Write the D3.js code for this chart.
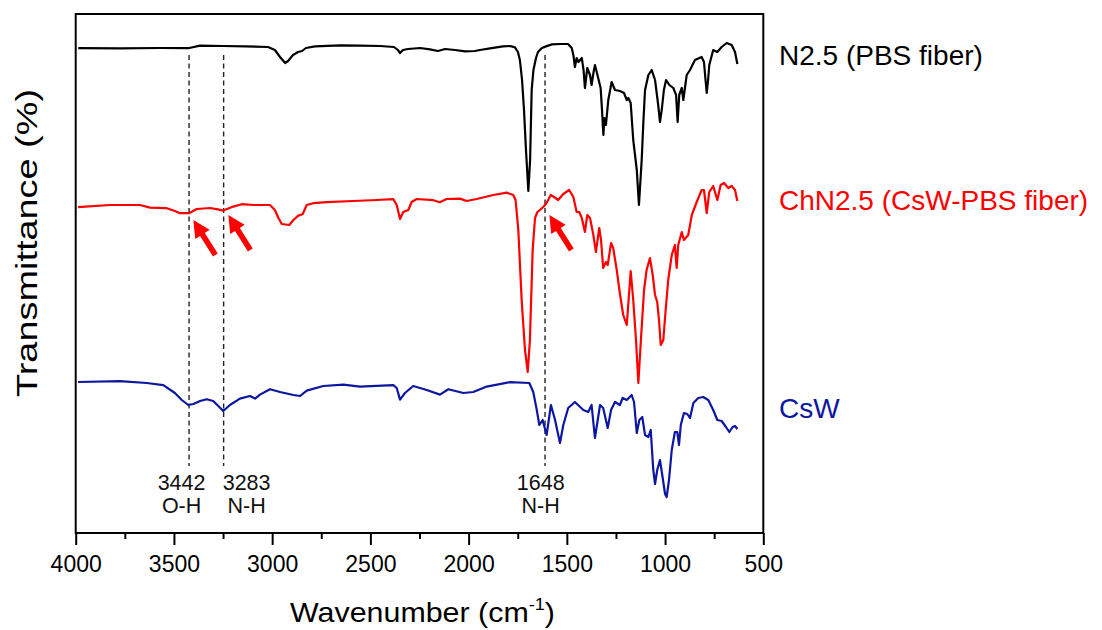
<!DOCTYPE html>
<html>
<head>
<meta charset="utf-8">
<script src="https://cdn.jsdelivr.net/npm/d3@7/dist/d3.min.js"></script>
<style>
  html, body { margin: 0; padding: 0; background: #fff; }
  svg { display: block; }
  text { font-family: "Liberation Sans", Arial, "DejaVu Sans", sans-serif; }
</style>
</head>
<body>
<svg id="chart" width="1102" height="630"></svg>
<script>
// ---------------- DATA ----------------
// x: wavenumber (cm-1); y: transmittance (a.u., spectra stacked with vertical offset)
const seriesNames = ["N2.5 (PBS fiber)", "ChN2.5 (CsW-PBS fiber)", "CsW"];
const seriesColors = ["#000000", "#ff0000", "#0c16a0"];

const n25Wn = [3987,3775,3571,3428,3367,3250,3138,3021,2986,2960,2934,2919,2894,2868,2848,2828,2782,2655,2553,2451,2380,2360,2349,2334,2309,2247,2197,2156,2120,2069,2018,1968,1942,1891,1825,1789,1764,1749,1739,1728,1718,1708,1696,1687,1679,1670,1657,1647,1627,1606,1576,1535,1494,1475,1466,1459,1450,1441,1433,1424,1415,1408,1396,1382,1374,1364,1357,1348,1328,1321,1314,1309,1301,1289,1272,1255,1230,1209,1195,1187,1175,1162,1144,1133,1119,1110,1102,1085,1068,1051,1035,1026,1017,1006,995,978,958,944,936,928,915,907,890,873,848,814,802,794,788,781,775,755,734,712,686,661,644,632];
const n25T  = [242.4,242.3,242.5,242.4,243.7,243.5,243.3,243,241.5,238,235,236,239,240.5,241,242.5,243.3,243.8,243.7,243.5,243,241.5,240,241.5,242,242.5,241.8,241,242,241.5,240.8,241,241.5,242.3,243.3,243.5,242.8,240.5,236.5,226.5,211.5,191.5,171,186.5,221.5,231.5,237.5,240.5,242.5,243.3,244.3,244.5,244.5,242.5,238.5,233,237.5,235.5,236.5,237.5,231.5,222.5,232.5,229,224,230.5,234,230.5,222.5,211.5,199,207.5,204,216.5,225.5,221.5,221,220,216.5,217.5,215,196.5,181.5,164,186.5,206.5,221.5,229,231.5,226.5,214,205.5,211.5,221.5,226.5,224,222.5,219,205.5,219,222.5,216.5,229,231.5,236.5,238,235.5,226.5,220,226.5,234,241.5,240.5,243,245,244,240.5,234.5];

const chnWn = [3988,3825,3673,3622,3537,3495,3469,3423,3384,3316,3276,3249,3198,3155,3096,3011,2986,2968,2951,2913,2892,2867,2845,2824,2791,2722,2587,2468,2383,2366,2349,2333,2307,2290,2264,2180,2146,2112,2044,2010,1959,1874,1806,1773,1761,1747,1730,1713,1699,1688,1674,1662,1650,1637,1620,1603,1582,1565,1544,1518,1488,1467,1450,1437,1424,1408,1396,1382,1365,1352,1335,1326,1315,1301,1292,1275,1264,1246,1229,1213,1195,1182,1175,1162,1148,1136,1123,1107,1094,1077,1063,1051,1040,1031,1022,1009,997,984,966,950,941,933,915,904,882,864,839,814,802,788,775,755,734,717,700,678,661,644,632];
const chnT  = [162.9,164,164,162.7,162.4,161,159.9,159.9,162,162.5,161.8,161.2,163.2,164.4,164,164,161.5,157.5,154.5,154,156.5,158.7,159.4,164,164.9,165.4,166,166.5,166.9,164,157,160.5,161.5,165.5,167,166.4,165.4,167,167.2,166,167,169,170.2,169,166.5,151.5,116.5,91.5,80.5,96.5,141.5,157.5,160.5,161.5,163,165,169,168,166.5,169.5,171.5,168,160.5,160.5,157.5,150.5,159,157.5,149,140.5,152.5,146.5,132.5,135.5,134,145,142.5,131.5,119,109,104,121.5,131,116.5,96.5,75,96.5,121.5,131.5,137.5,129,119,115.5,106.5,94,96.5,111.5,126.5,139,144,132.5,144,150.5,146.5,149,159,165.5,171.5,171.5,160,170.5,173.5,166.5,174,175,172.5,173.5,171.5,166];

const cswWn = [3988,3775,3639,3554,3495,3460,3427,3401,3367,3333,3300,3274,3249,3215,3164,3113,3087,3062,3011,2960,2892,2858,2824,2740,2638,2553,2383,2366,2349,2324,2282,2213,2146,2103,2027,1976,1908,1789,1691,1671,1653,1640,1623,1603,1581,1560,1535,1518,1493,1459,1416,1391,1374,1357,1331,1315,1292,1275,1255,1230,1216,1195,1170,1158,1144,1131,1116,1102,1085,1073,1060,1051,1040,1026,1012,1000,992,980,966,950,938,929,920,904,887,873,856,831,806,780,755,734,712,690,673,656,644,632];
const cswT  = [75.5,75.9,75,73.9,70,66.5,64,64.5,66,66.9,66,63.5,61,64,67.2,68.5,67.2,69.2,71.9,70.5,69,68.5,71.2,73.5,74.2,73.2,73.9,72.5,66.7,70,73.5,71.5,69.2,71.9,70,70.5,73.2,75.4,75,70.5,61.5,54,56.5,49,64,56.5,45,54,62.5,65.5,61.5,60.5,64,47.5,64,62.5,52.5,61.5,65.5,64,67.5,66.5,69,65.5,50,56.5,58,49,48,51.5,31.5,24.5,31.5,36.5,27.5,19.5,18,26.5,41.5,50.5,50.5,44,54,60,59.5,57.5,65,67.5,68,66.5,61.5,56.5,56,53,50.5,53,53.5,52];

// axis
const xDomain = [4000, 500];
const yDomain = [0, 259.5];
const majorTicks = [4000, 3500, 3000, 2500, 2000, 1500, 1000, 500];
const minorTicks = [3750, 3250, 2750, 2250, 1750, 1250, 750];

// band markers (dashed guide lines): drawn position, label anchor, labels
const markerWn      = [3423, 3247, 1611];
const markerLabelWn = [3461, 3130, 1633];
const markerNumber  = ["3442", "3283", "1648"];
const markerBond    = ["O-H", "N-H", "N-H"];
const markerRange   = [33.5, 239];

// red arrows pointing at new bands on ChN2.5 (tip positions)
const arrowWn = [3401, 3223, 1589];
const arrowT  = [156.5, 159, 159];

// ---------------- LAYOUT ----------------
const svg = d3.select("#chart");
const L = 75.7, R = 763.3, T = 14, B = 533;
const x = d3.scaleLinear().domain(xDomain).range([L, R]);
const y = d3.scaleLinear().domain(yDomain).range([B, T]);

// dashed guide lines
markerWn.forEach((w) => {
  svg.append("line")
    .attr("x1", x(w)).attr("x2", x(w))
    .attr("y1", y(markerRange[1])).attr("y2", y(markerRange[0]))
    .attr("stroke", "#222").attr("stroke-width", 1.4)
    .attr("stroke-dasharray", "5,3.5");
});

// spectra
const line = d3.line().x(d => x(d[0])).y(d => y(d[1])).curve(d3.curveLinear);
const allSeries = [
  d3.zip(n25Wn, n25T),
  d3.zip(chnWn, chnT),
  d3.zip(cswWn, cswT)
];
allSeries.forEach((pts, i) => {
  svg.append("path")
    .datum(pts)
    .attr("d", line)
    .attr("fill", "none")
    .attr("stroke", seriesColors[i])
    .attr("stroke-width", 2.2)
    .attr("stroke-linejoin", "round");
});

// marker labels
markerLabelWn.forEach((w, i) => {
  svg.append("text").attr("x", x(w)).attr("y", 490)
    .attr("text-anchor", "middle").attr("font-size", 21.5).attr("fill", "#111")
    .text(markerNumber[i]);
  svg.append("text").attr("x", x(w)).attr("y", 512.7)
    .attr("text-anchor", "middle").attr("font-size", 21.5).attr("fill", "#111")
    .text(markerBond[i]);
});

// arrows
arrowWn.forEach((w, i) => {
  const tx = x(w), ty = y(arrowT[i]);
  const dx = 22, dy = 35;               // tail offset direction
  const len = Math.hypot(dx, dy);
  const ux = dx / len, uy = dy / len;   // unit vector tip->tail
  const px = -uy, py = ux;              // perpendicular
  const headL = 17, headW = 8.5, shaftW = 2.8;
  const bx = tx + ux * headL, by = ty + uy * headL;
  const ex = tx + dx, ey = ty + dy;
  const pts = [
    [tx, ty],
    [bx + px * headW, by + py * headW],
    [bx + px * shaftW, by + py * shaftW],
    [ex + px * shaftW, ey + py * shaftW],
    [ex - px * shaftW, ey - py * shaftW],
    [bx - px * shaftW, by - py * shaftW],
    [bx - px * headW, by - py * headW]
  ];
  svg.append("polygon")
    .attr("points", pts.map(p => p.join(",")).join(" "))
    .attr("fill", "#ff0000");
});

// frame
svg.append("rect")
  .attr("x", L).attr("y", T).attr("width", R - L).attr("height", B - T)
  .attr("fill", "none").attr("stroke", "#000").attr("stroke-width", 2);

// x axis ticks
const xAxis = d3.axisBottom(x).tickValues(majorTicks).tickSize(12).tickFormat(d3.format("d"));
const gx = svg.append("g").attr("transform", `translate(0,${B})`).call(xAxis);
gx.select(".domain").remove();
gx.selectAll(".tick line").attr("stroke", "#000").attr("stroke-width", 2);
gx.selectAll(".tick text")
  .attr("y", 39.3).attr("dy", 0)
  .attr("font-size", 23).attr("fill", "#000")
  .style("font-family", '"Liberation Sans", Arial, sans-serif');
const gxm = svg.append("g").attr("transform", `translate(0,${B})`)
  .call(d3.axisBottom(x).tickValues(minorTicks).tickSize(6).tickFormat(""));
gxm.select(".domain").remove();
gxm.selectAll(".tick line").attr("stroke", "#000").attr("stroke-width", 2);

// axis titles
const xt = svg.append("text")
  .attr("x", 422.5).attr("y", 621.5)
  .attr("text-anchor", "middle").attr("font-size", 28.5).attr("fill", "#000")
  .attr("textLength", 265).attr("lengthAdjust", "spacingAndGlyphs");
xt.append("tspan").text("Wavenumber (cm");
xt.append("tspan").attr("font-size", 17).attr("dy", -12).text("-1");
xt.append("tspan").attr("dy", 12).text(")");

svg.append("text")
  .attr("transform", "translate(37,243) rotate(-90)")
  .attr("text-anchor", "middle").attr("font-size", 29).attr("fill", "#000")
  .attr("textLength", 308).attr("lengthAdjust", "spacingAndGlyphs")
  .text("Transmittance (%)");

// series labels
const labelBaselines = [65, 210, 418.3];
seriesNames.forEach((s, i) => {
  svg.append("text")
    .attr("x", 779).attr("y", labelBaselines[i])
    .attr("font-size", 28).attr("fill", seriesColors[i])
    .text(s);
});
</script>
</body>
</html>
